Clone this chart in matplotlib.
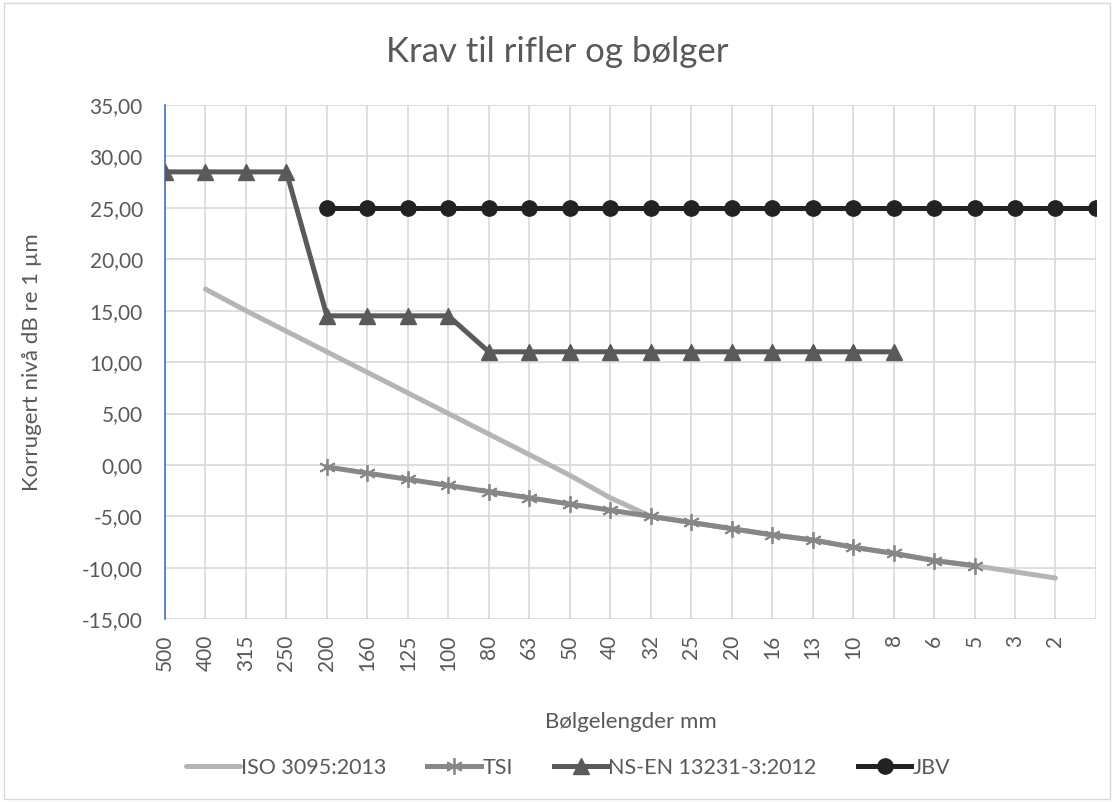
import numpy as np
import matplotlib
matplotlib.use("Agg")
import matplotlib.pyplot as plt
from matplotlib.patches import Rectangle

plt.rcParams['font.family'] = ['Lato', 'DejaVu Sans']

nan = np.nan

# wavelengths (mm), last category is empty in the original
categories = ['500', '400', '315', '250', '200', '160', '125', '100', '80', '63', '50', '40',
              '32', '25', '20', '16', '13', '10', '8', '6', '5', '3', '2', '']

iso = [nan, 17.1, 15.0, 13.0, 11.0, 9.0, 7.0, 5.0, 3.0, 1.0, -1.0, -3.2,
       -5.0, -5.6, -6.2, -6.8, -7.3, -8.0, -8.6, -9.3, -9.8, -10.4, -11.0, nan]
tsi = [nan, nan, nan, nan, -0.2, -0.8, -1.4, -2.0, -2.6, -3.2, -3.8, -4.4,
       -5.0, -5.6, -6.2, -6.8, -7.3, -8.0, -8.6, -9.3, -9.8, nan, nan, nan]
nsen = [28.5, 28.5, 28.5, 28.5, 14.5, 14.5, 14.5, 14.5, 11.0, 11.0, 11.0, 11.0,
        11.0, 11.0, 11.0, 11.0, 11.0, 11.0, 11.0, nan, nan, nan, nan, nan]
jbv = [nan, nan, nan, nan, 25, 25, 25, 25, 25, 25, 25, 25,
       25, 25, 25, 25, 25, 25, 25, 25, 25, 25, 25, 25]

x = np.arange(len(categories))
txt = '#595959'

fig = plt.figure(figsize=(11.14, 8.02), dpi=100)
ax = fig.add_axes([0.1481, 0.228, 0.8357, 0.641])

# chart border
fig.patches.append(Rectangle((0.004, 0.004), 0.992, 0.992, transform=fig.transFigure,
                             fill=False, edgecolor='#D9D9D9', linewidth=1))

lw = 3.6
ax.plot(x, iso, color='#B5B5B5', lw=lw, solid_capstyle='round', label='ISO 3095:2013', zorder=3)
ax.plot(x, tsi, color='#878787', lw=lw, marker=(6, 2, 0), markersize=12, markeredgewidth=1.3,
        markeredgecolor='#878787', label='TSI', zorder=4)
ax.plot(x, nsen, color='#5A5A5A', lw=lw, marker='^', markersize=11, label='NS-EN 13231-3:2012', zorder=5)
ax.plot(x, jbv, color='#222222', lw=lw, marker='o', markersize=11, label='JBV', zorder=6)

ax.set_xlim(0, len(categories) - 1)
ax.set_ylim(-15, 35)
ax.set_xticks(x)
ax.set_xticklabels(categories, rotation=90, fontsize=15, color=txt)
yt = np.arange(-15, 40, 5)
ax.set_yticks(yt)
ax.set_yticklabels([f'{v:.2f}'.replace('.', ',') for v in yt], fontsize=15, color=txt)
ax.tick_params(axis='y', length=0, pad=16)
ax.tick_params(axis='x', length=0, pad=11)

ax.grid(True, color='#D9D9D9', linewidth=1.2)
ax.set_axisbelow(True)
for s in ['top', 'right', 'bottom']:
    ax.spines[s].set_visible(False)
ax.spines['left'].set_color('#4472C4')
ax.spines['left'].set_linewidth(1.2)

ax.set_ylabel('Korrugert nivå dB re 1 µm', fontsize=16, color=txt)
ax.yaxis.set_label_coords(-0.132, 0.5)
ax.set_xlabel('Bølgelengder mm', fontsize=16, color=txt)
ax.xaxis.set_label_coords(0.5, -0.181)
fig.text(0.5, 0.935, 'Krav til rifler og bølger', ha='center', va='center', fontsize=25, color=txt)

fig.legend(loc='center', bbox_to_anchor=(0.51, 0.043), ncol=4, frameon=False, fontsize=15.5,
           handlelength=2.5, handletextpad=0.05, columnspacing=1.9, labelcolor=txt)

fig.savefig('out.png', dpi=100)
